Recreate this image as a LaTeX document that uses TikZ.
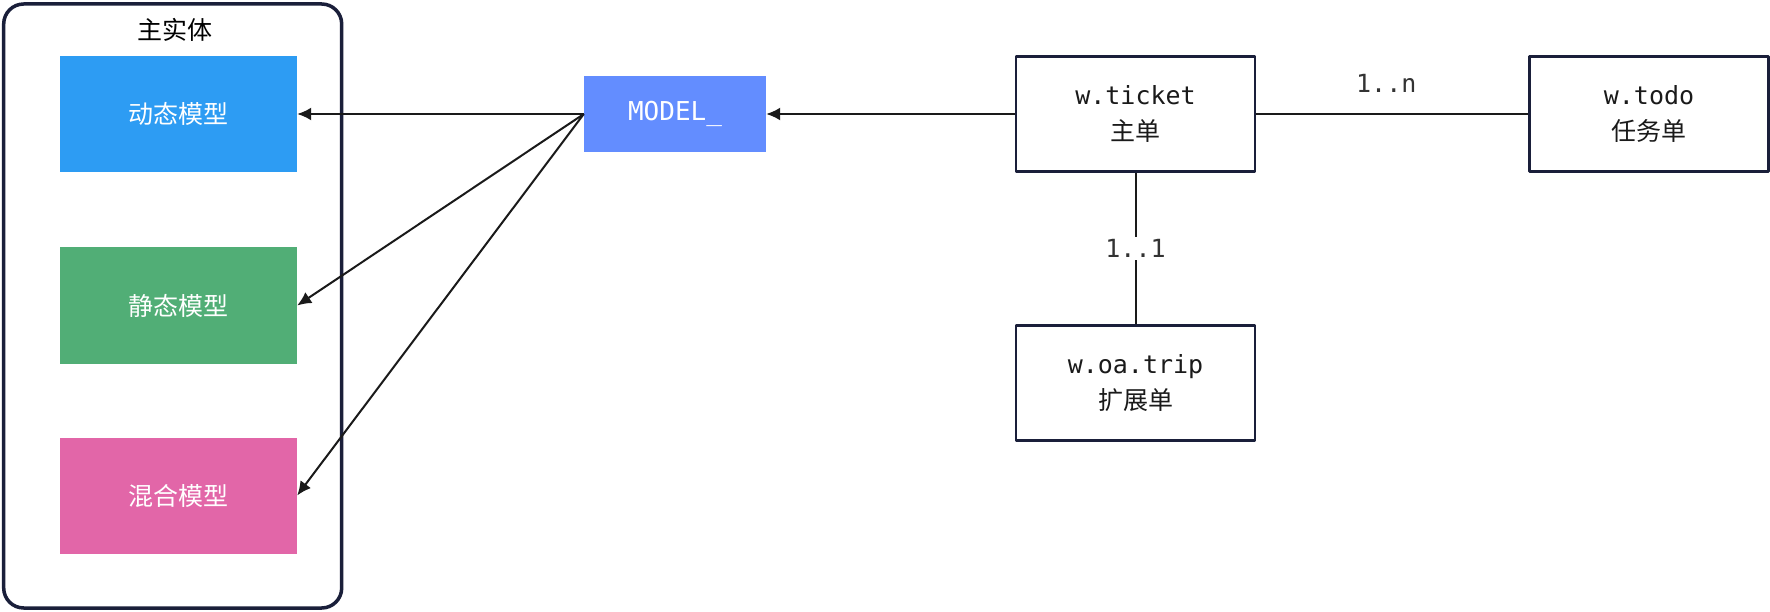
\documentclass[tikz,border=0pt]{standalone}
\usepackage{fontspec}
\setmainfont{Noto Sans CJK SC}
\setmonofont{DejaVu Sans Mono}
\usetikzlibrary{arrows.meta,positioning}
\definecolor{entNavy}{HTML}{1A1F3A}
\definecolor{entInk}{HTML}{1A1A1A}
\definecolor{entGray}{HTML}{333333}
\definecolor{entBlue}{HTML}{2D9CF3}
\definecolor{entGreen}{HTML}{51AE76}
\definecolor{entPink}{HTML}{E266A8}
\definecolor{entModel}{HTML}{638DFF}

\begin{document}
\begin{tikzpicture}[x=1pt,y=-1pt,>={Latex[length=14pt,width=13pt]},line join=round]
\path[fill=white] (0,0) rectangle (1770,612);
\tikzset{frame/.style={draw=entNavy,line width=3.5pt,rounded corners=20pt},kind/.style={minimum width=237pt,minimum height=116pt,inner sep=0pt,text=white,font=\fontsize{25}{30}\selectfont},ent/.style={draw=entNavy,fill=white,line width=2.2pt,minimum width=239pt,minimum height=115pt,inner sep=0pt,align=center,text=entInk,font=\fontsize{25}{36}\selectfont},link/.style={draw=entInk,line width=2pt},lbl/.style={text=entGray,font=\ttfamily\fontsize{25}{30}\selectfont,inner sep=2pt}}
% main entity group
\node[frame,minimum width=338pt,minimum height=604pt] (main) at (172.7,306) {};
\node[font=\fontsize{25}{30}\selectfont,text=black] (mainlbl) at (175,30) {主实体};
\node[kind,fill=entBlue] (dyn) at (178.5,114) {动态模型};
\node[kind,fill=entGreen] (sta) at (178.5,305.5) {静态模型};
\node[kind,fill=entPink] (mix) at (178.5,495.5) {混合模型};
% model prefix
\node[fill=entModel,minimum width=182pt,minimum height=76pt,inner sep=0pt,text=white,font=\ttfamily\fontsize{26}{30}\selectfont] (model) at (675,114) {MODEL\_};
% tables
\node[ent] (ticket) at (1135.5,114) {{\ttfamily w.ticket}\\主单};
\node[ent] (todo) at (1649,114) {{\ttfamily w.todo}\\任务单};
\node[ent] (trip) at (1135.5,383) {{\ttfamily w.oa.trip}\\扩展单};
\draw[link,->] (model.west) -- (dyn.east);
\draw[link,->] (model.west) -- (sta.east);
\draw[link,->] (model.west) -- (mix.east);
\draw[link,->] (ticket.west) -- (model.east);
\draw[link] (ticket.east) -- node[lbl,yshift=31pt,xshift=-6pt] (ton) {1..n} (todo.west);
\draw[link] (ticket.south) -- node[lbl,fill=white] (tot) {1..1} (trip.north);
\end{tikzpicture}
\end{document}
